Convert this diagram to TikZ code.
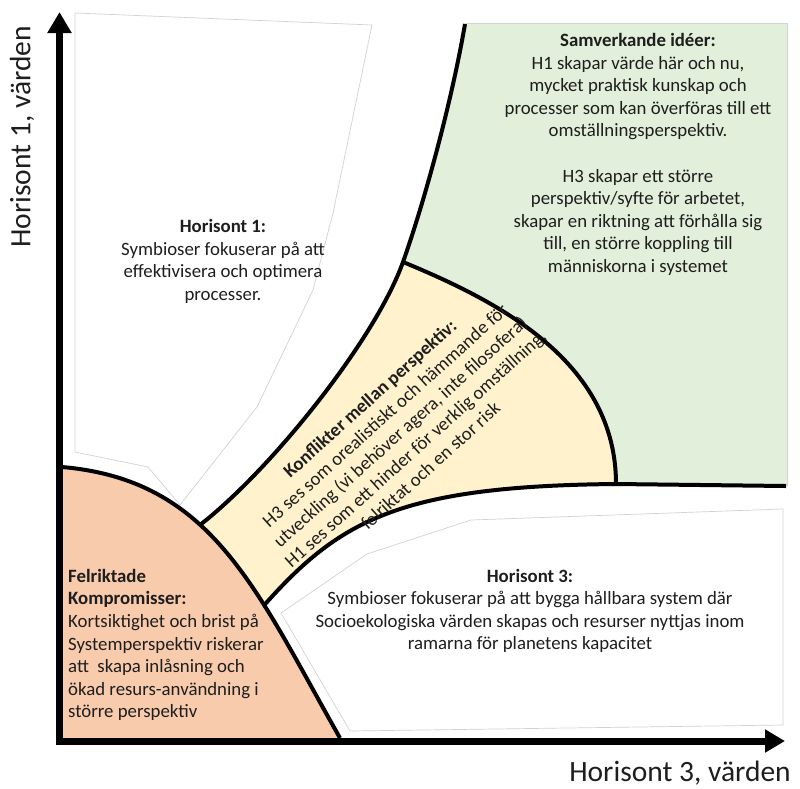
\documentclass[tikz,border=0pt]{standalone}
\usepackage{fontspec}
\setmainfont{Carlito}
\usetikzlibrary{arrows.meta}
\definecolor{greenfill}{HTML}{E2EFDA}
\definecolor{yellowfill}{HTML}{FFF2CC}
\definecolor{orangefill}{HTML}{F8CBAD}
\definecolor{faint}{HTML}{D2D2D2}
\definecolor{ink}{HTML}{1E1E1E}
\begin{document}
\begin{tikzpicture}[x=1pt,y=-1pt,
  boundary/.style={line width=4pt, line join=round},
  faintline/.style={draw=faint, line width=0.7pt, line join=miter},
  bodytext/.style={font=\fontsize{18.8}{22.6}\selectfont, text=ink, inner sep=0pt},
  axislabel/.style={font=\fontsize{29.5}{35}\selectfont, text=ink, inner sep=0pt},
  axisline/.style={line width=7pt, line join=miter,
    {Triangle[length=21pt,width=23pt]}-{Triangle[length=20pt,width=22pt]}}
]
\useasboundingbox (0,0) rectangle (800,788);
\fill[white] (0,0) rectangle (800,788);

% key points of the quadrant layout
\coordinate (gtop) at (465,24);
\coordinate (fork) at (403,262);
\coordinate (meet) at (616,484);
\coordinate (gbr) at (786,486);
\coordinate (obase) at (340,738);
\coordinate (otop) at (62,467);
\path (otop) .. controls (212,480) and (255,588) .. (obase)
  coordinate[pos=0.4] (oy1) coordinate[pos=0.67] (oy2);

% text-box outlines of the two horizons
\draw[faintline] (75,13) -- (372,25) -- (333,213) -- (313,290) -- (257,407)
  -- (180,505) -- (148,467) -- (75,452) -- cycle;
\draw[faintline] (471,520) -- (783,509) -- (783,725) -- (350,731) -- (281,613)
  -- (367,554) -- cycle;

% green area: cooperating ideas
\fill[greenfill] (465,23) -- (787,23) -- (787,486) -- (gbr) -- (meet)
  .. controls (616,360) and (495,300) .. (fork)
  .. controls (425,200) and (452,100) .. (gtop) -- cycle;
\draw[faintline] (465,23) -- (787,23) -- (787,486);

% yellow area: conflicts between perspectives
\fill[yellowfill] (fork) .. controls (495,300) and (616,360) .. (meet)
  .. controls (400,486) and (340,520) .. (oy2) -- (oy1)
  .. controls (273,468) and (376,338) .. (fork) -- cycle;

% orange area: misdirected compromises
\fill[orangefill] (otop) .. controls (212,480) and (255,588) .. (obase)
  -- (59,741) -- (59,467) -- cycle;

% black boundaries
\draw[boundary] (gtop) .. controls (452,100) and (425,200) .. (fork)
  .. controls (376,338) and (273,468) .. (oy1);
\draw[boundary] (fork) .. controls (495,300) and (616,360) .. (meet);
\draw[boundary] (oy2) .. controls (340,520) and (400,486) .. (meet) -- (gbr);
\draw[boundary] (otop) .. controls (212,480) and (255,588) .. (obase);

% axes
\draw[axisline] (59.5,12) -- (59.5,741) -- (785,741);

% axis labels
\node[axislabel, rotate=90] (ylab) at (22,137) {Horisont 1, värden};
\node[axislabel] (xlab) at (680,773) {Horisont 3, värden};

% area texts
\node[bodytext, align=center] (sam) at (638,154.5)
  {\textbf{Samverkande idéer:}\\H1 skapar värde här och nu,\\mycket praktisk kunskap och\\processer som kan överföras till ett\\omställningsperspektiv.\\[22.6pt]H3 skapar ett större\\perspektiv/syfte för arbetet,\\skapar en riktning att förhålla sig\\till, en större koppling till\\människorna i systemet};
\node[bodytext, align=center] (hor1) at (223,261.5)
  {\textbf{Horisont 1:}\\Symbioser fokuserar på att\\effektivisera och optimera\\processer.};
\node[bodytext, align=center] (hor3) at (530,611)
  {\textbf{Horisont 3:}\\Symbioser fokuserar på att bygga hållbara system där\\Socioekologiska värden skapas och resurser nyttjas inom\\ramarna för planetens kapacitet};
\node[bodytext, align=left, anchor=west] (fel) at (68,645)
  {\textbf{Felriktade}\\\textbf{Kompromisser:}\\Kortsiktighet och brist på\\Systemperspektiv riskerar\\att~ skapa inlåsning och\\ökad resurs-användning i\\större perspektiv};
\node[bodytext, align=center, rotate=42] (konf) at (400,432)
  {\textbf{Konflikter mellan perspektiv:}\\H3 ses som orealistiskt och hämmande för\\utveckling (vi behöver agera, inte filosofera)\\H1 ses som ett hinder för verklig omställning,\\felriktat och en stor risk};
\end{tikzpicture}
\end{document}
